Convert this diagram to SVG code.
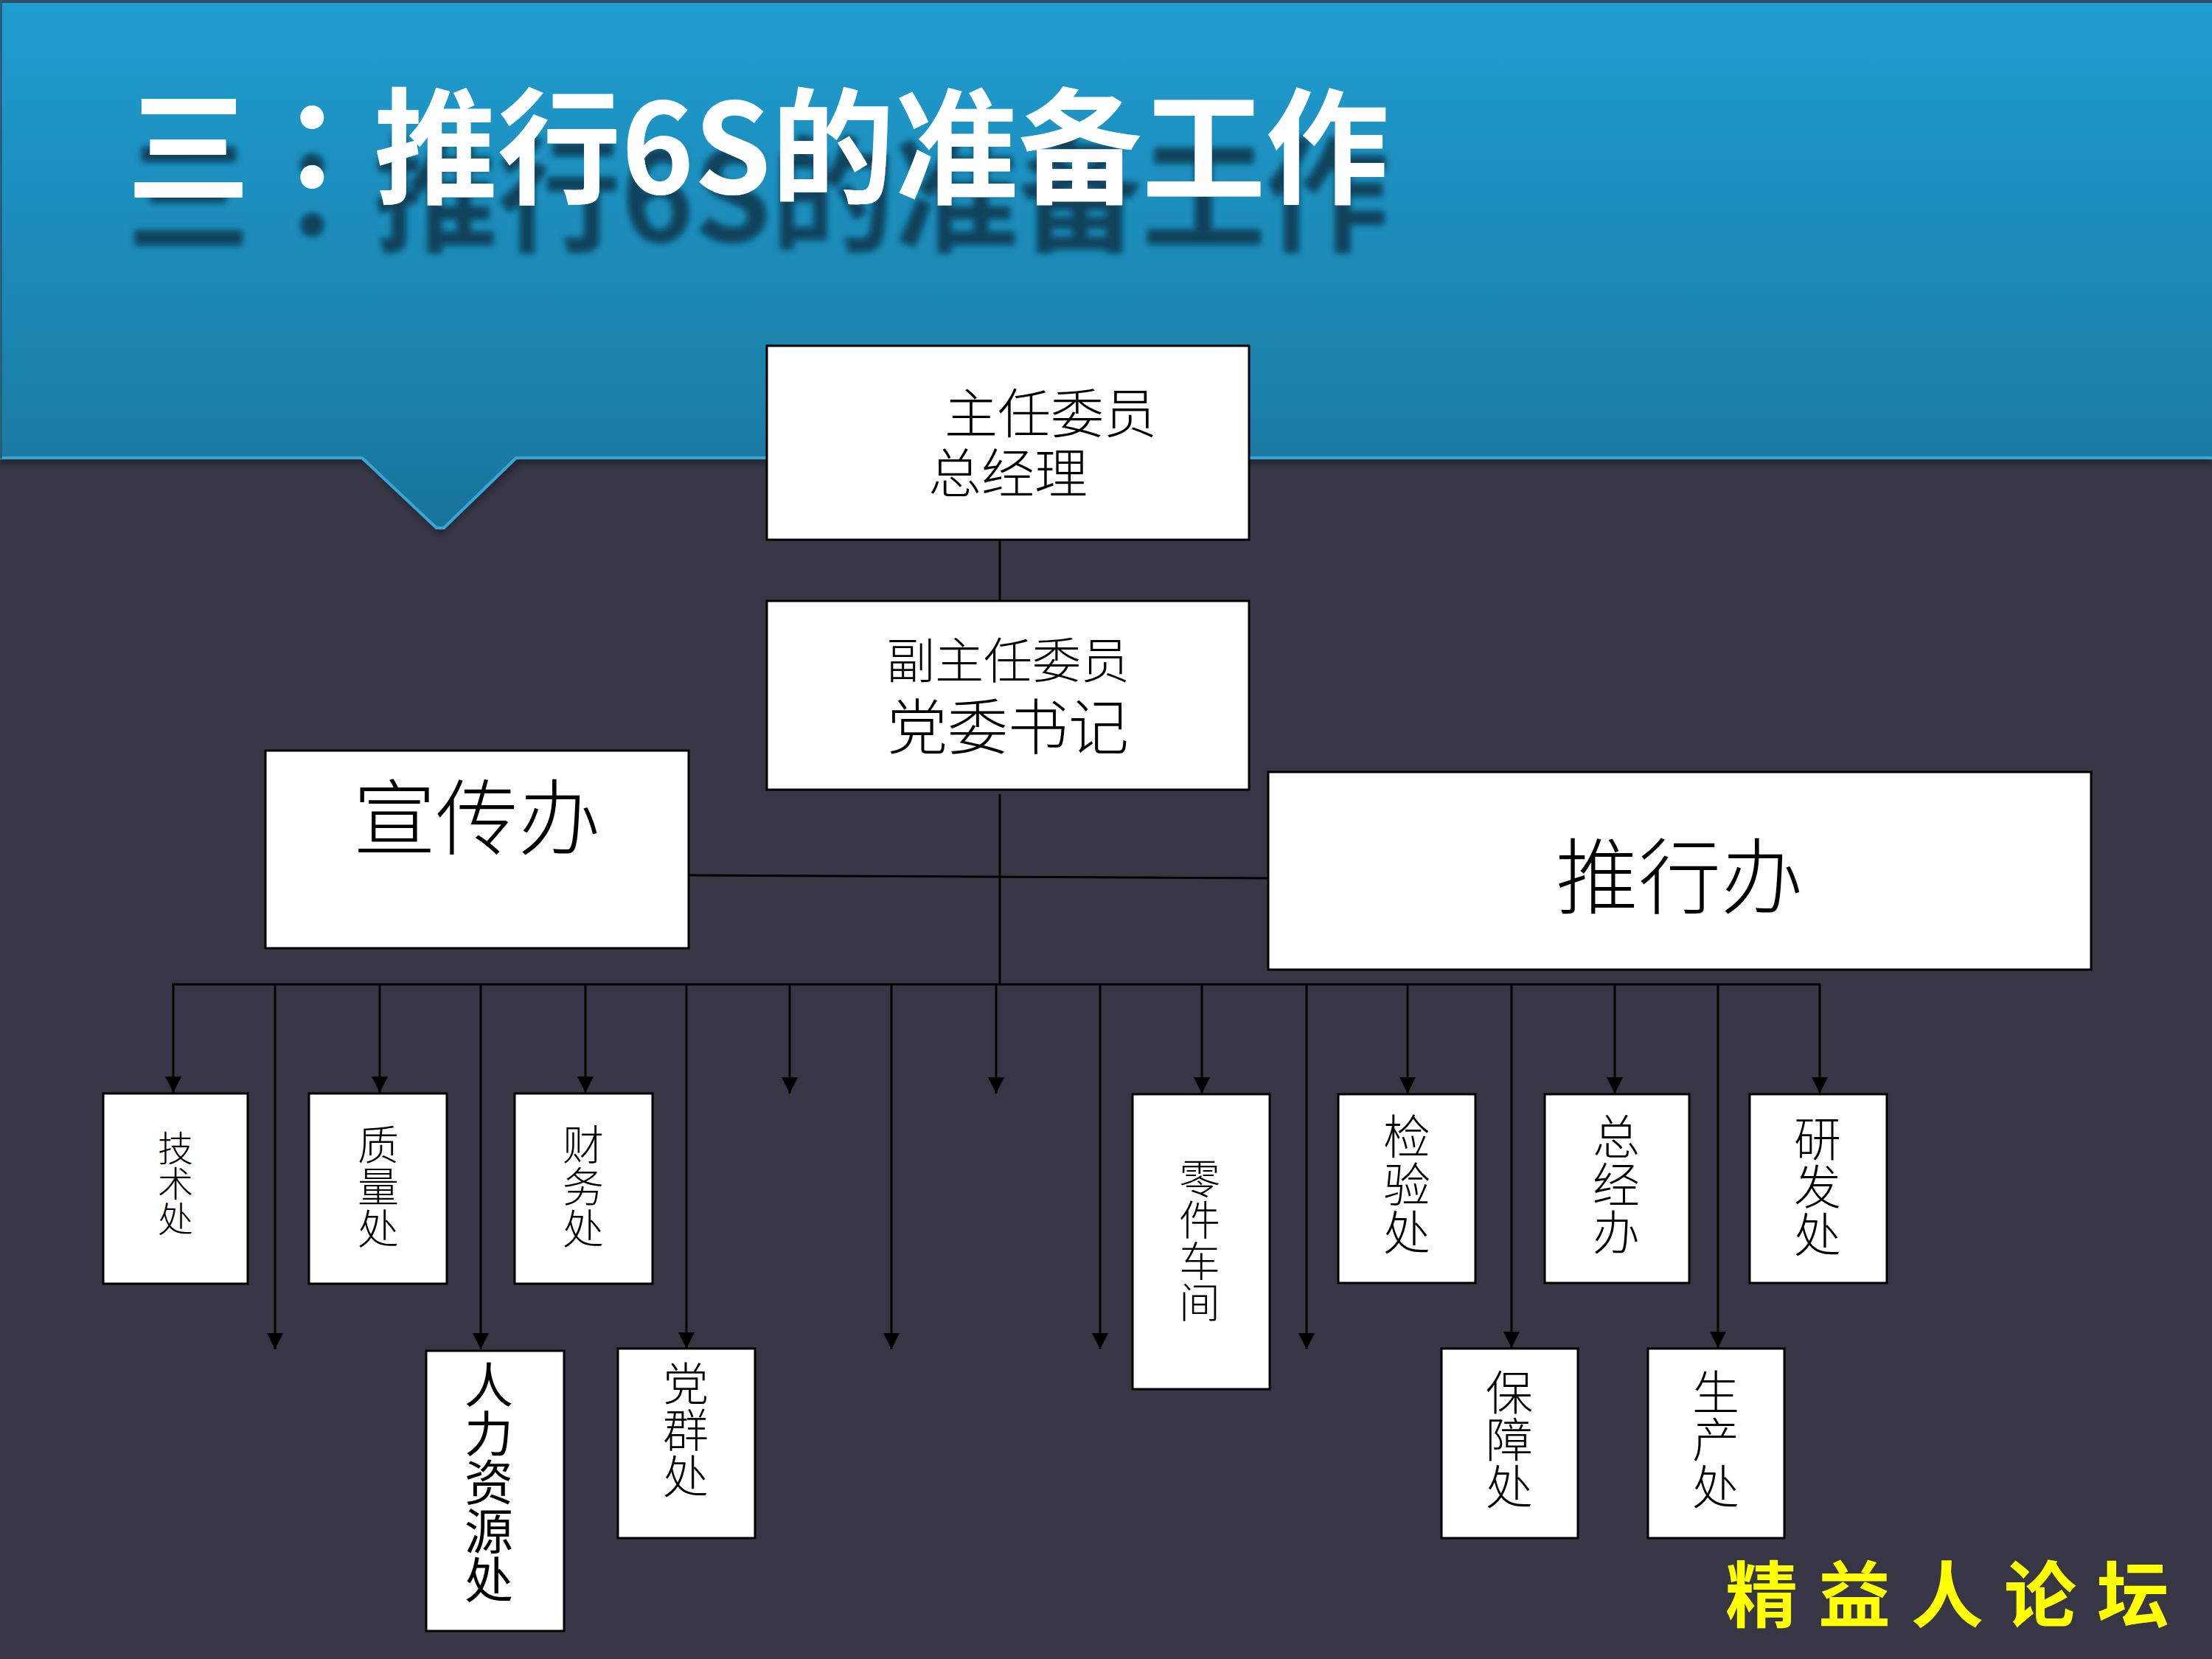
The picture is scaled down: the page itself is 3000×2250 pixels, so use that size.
<svg xmlns="http://www.w3.org/2000/svg" width="3000" height="2250" viewBox="0 0 3000 2250">
<defs>
  <linearGradient id="hdr" x1="0" y1="0" x2="0" y2="720" gradientUnits="userSpaceOnUse">
    <stop offset="0" stop-color="#1f9dd0"/>
    <stop offset="0.85" stop-color="#1a7ca5"/>
    <stop offset="1" stop-color="#177299"/>
  </linearGradient>
  <filter id="tshadow" x="-5%" y="-10%" width="110%" height="170%">
    <feGaussianBlur in="SourceAlpha" stdDeviation="4" result="b"/>
    <feOffset in="b" dx="0" dy="65" result="o"/>
    <feFlood flood-color="#0b3a52" flood-opacity="0.9"/>
    <feComposite in2="o" operator="in" result="s"/>
    <feMerge><feMergeNode in="s"/><feMergeNode in="SourceGraphic"/></feMerge>
  </filter>
  <filter id="soft" x="-5%" y="-20%" width="110%" height="140%"><feGaussianBlur stdDeviation="3"/></filter>
  <marker id="arr" markerUnits="userSpaceOnUse" markerWidth="22" markerHeight="22" refX="22" refY="11" orient="auto">
    <path d="M0,0 L22,11 L0,22 z" fill="#000"/>
  </marker>
  <style>
    .box{fill:#fff;stroke:#000;stroke-width:3}
    .t{font-family:"Noto Sans CJK SC","Noto Sans CJK TC",sans-serif;fill:#000;font-weight:300}
    .m{text-anchor:middle}
    .v{writing-mode:vertical-rl;text-anchor:start}
    .ln{stroke:#000;stroke-width:3;fill:none}
    .ar{stroke:#000;stroke-width:3;fill:none;marker-end:url(#arr)}
    .title{font-family:"Noto Sans CJK SC","Noto Sans CJK TC",sans-serif;font-weight:bold;font-size:170px}
  </style>
</defs>

<rect x="0" y="0" width="3000" height="2250" fill="#373644"/>

<g id="header">
  <path d="M0,8 H3000 V630 H704 L597,726 L495,630 H0 Z" fill="#1c1b26" opacity="0.6" filter="url(#soft)"/>
  <path d="M0,0 H3000 V622 H700 L602,716 Q597,721 592,716 L491,622 H0 Z" fill="url(#hdr)"/>
  <polyline points="0,621 491,621 592,716 602,716 700,621 3000,621" fill="none" stroke="#3aa6d6" stroke-width="4" stroke-linejoin="round"/>
  <rect x="0" y="0" width="3000" height="4" fill="#2f4f66"/>
  <rect x="0" y="0" width="3" height="622" fill="#2a5d78"/>
  <text class="title" x="172" y="263" textLength="1712" lengthAdjust="spacingAndGlyphs" fill="#ffffff" filter="url(#tshadow)">三<tspan font-family="Noto Sans CJK TC">：</tspan>推行6S的准备工作</text>
</g>

<g id="connectors">
  <line class="ln" x1="1356" y1="731" x2="1356" y2="826" stroke-width="2"/>
  <line class="ln" x1="1356" y1="1077" x2="1356" y2="1335"/>
  <line class="ln" x1="934" y1="1187" x2="1720" y2="1191"/>
  <line class="ln" x1="233" y1="1335" x2="2469" y2="1335" stroke-width="3.5"/>
  <line class="ar" x1="235" y1="1335" x2="235" y2="1482"/>
  <line class="ar" x1="373" y1="1335" x2="373" y2="1830"/>
  <line class="ar" x1="515" y1="1335" x2="515" y2="1482"/>
  <line class="ar" x1="652" y1="1335" x2="652" y2="1830"/>
  <line class="ar" x1="794" y1="1335" x2="794" y2="1482"/>
  <line class="ar" x1="931" y1="1335" x2="931" y2="1829"/>
  <line class="ar" x1="1071" y1="1335" x2="1071" y2="1483"/>
  <line class="ar" x1="1209" y1="1335" x2="1209" y2="1830"/>
  <line class="ar" x1="1351" y1="1335" x2="1351" y2="1483"/>
  <line class="ar" x1="1492" y1="1335" x2="1492" y2="1830"/>
  <line class="ar" x1="1630" y1="1335" x2="1630" y2="1483"/>
  <line class="ar" x1="1772" y1="1335" x2="1772" y2="1830"/>
  <line class="ar" x1="1909" y1="1335" x2="1909" y2="1483"/>
  <line class="ar" x1="2050" y1="1335" x2="2050" y2="1828"/>
  <line class="ar" x1="2190" y1="1335" x2="2190" y2="1483"/>
  <line class="ar" x1="2330" y1="1335" x2="2330" y2="1828"/>
  <line class="ar" x1="2468" y1="1335" x2="2468" y2="1483"/>
</g>

<g id="n-director">
  <rect class="box" x="1040" y="469" width="654" height="263"/>
  <text class="t m" font-size="72"><tspan x="1425" y="587">主任委员</tspan><tspan x="1367" y="668">总经理</tspan></text>
</g>
<g id="n-deputy">
  <rect class="box" x="1040" y="815" width="654" height="256"/>
  <text class="t m" font-size="66"><tspan x="1367" y="920">副主任委员</tspan><tspan x="1367" y="1016" font-size="82">党委书记</tspan></text>
</g>
<g id="n-xuanchuan">
  <rect class="box" x="360" y="1018" width="574" height="268"/>
  <text class="t m" font-size="112" x="647" y="1151">宣传办</text>
</g>
<g id="n-tuixing">
  <rect class="box" x="1720" y="1047" width="1116" height="268"/>
  <text class="t m" font-size="112" x="2278" y="1231">推行办</text>
</g>

<g id="n-jishu">
  <rect class="box" x="140" y="1483" width="196" height="258"/>
  <text class="t v" font-size="48" x="238" y="1533">技术处</text>
</g>
<g id="n-zhiliang">
  <rect class="box" x="419" y="1483" width="187" height="258"/>
  <text class="t v" font-size="56" letter-spacing="1" x="513" y="1524">质量处</text>
</g>
<g id="n-caiwu">
  <rect class="box" x="698" y="1483" width="187" height="258"/>
  <text class="t v" font-size="56" letter-spacing="1" x="791" y="1524">财务处</text>
</g>
<g id="n-renli">
  <rect class="box" x="578" y="1832" width="187" height="380" stroke-width="8"/>
  <text class="t v" font-size="66" x="663" y="1845" style="font-weight:400">人力资源处</text>
</g>
<g id="n-dangqun">
  <rect class="box" x="838" y="1829" width="186" height="257"/>
  <text class="t v" font-size="62" letter-spacing="1" x="930" y="1845">党群处</text>
</g>
<g id="n-lingjian">
  <rect class="box" x="1536" y="1484" width="186" height="400"/>
  <text class="t v" font-size="56" x="1627" y="1570">零件车间</text>
</g>
<g id="n-jianyan">
  <rect class="box" x="1815" y="1484" width="186" height="256"/>
  <text class="t v" font-size="64" letter-spacing="1" x="1908" y="1509">检验处</text>
</g>
<g id="n-zongjing">
  <rect class="box" x="2095" y="1484" width="196" height="256"/>
  <text class="t v" font-size="64" letter-spacing="1" x="2192" y="1509">总经办</text>
</g>
<g id="n-yanfa">
  <rect class="box" x="2373" y="1484" width="186" height="256"/>
  <text class="t v" font-size="64" letter-spacing="1" x="2465" y="1512">研发处</text>
</g>
<g id="n-baozhang">
  <rect class="box" x="1955" y="1829" width="185" height="257"/>
  <text class="t v" font-size="64" x="2047" y="1856">保障处</text>
</g>
<g id="n-shengchan">
  <rect class="box" x="2235" y="1829" width="185" height="257"/>
  <text class="t v" font-size="64" x="2327" y="1856">生产处</text>
</g>

<text x="2340" y="2199" font-family="Noto Sans CJK SC, sans-serif" font-weight="bold" font-size="98" letter-spacing="28" fill="#ffff00">精益人论坛</text>
</svg>
